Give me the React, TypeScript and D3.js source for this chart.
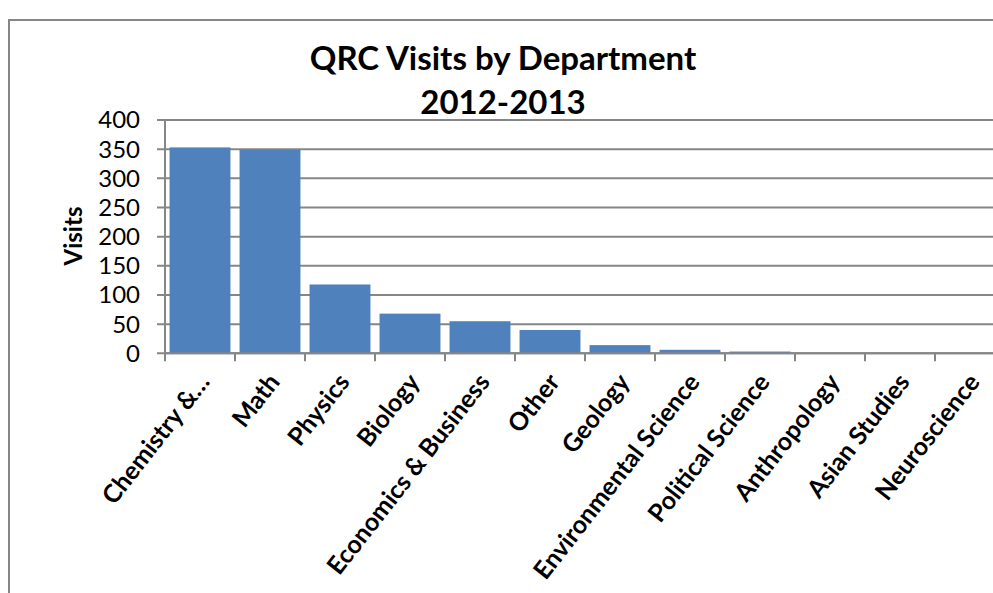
import * as d3 from "d3";

const departments = [
  "Chemistry &…",
  "Math",
  "Physics",
  "Biology",
  "Economics & Business",
  "Other",
  "Geology",
  "Environmental Science",
  "Political Science",
  "Anthropology",
  "Asian Studies",
  "Neuroscience",
];
const visits = [353, 349, 118, 68, 55, 40, 14, 6, 3, 0, 0, 0];
const yTicks = [0, 50, 100, 150, 200, 250, 300, 350, 400];

const W = 993;
const H = 593;
const grey = "#868686";
const barColor = "#4F81BD";
const font = "Lato, 'Open Sans', sans-serif";

const App = () => {
  // plot area (right edge runs past the picture, as in the original)
  const left = 165;
  const right = 1005;
  const top = 120;
  const bottom = 353.3;

  const x = d3
    .scaleBand<string>()
    .domain(departments)
    .range([left, right])
    .paddingInner(0.13)
    .paddingOuter(0.065);

  const y = d3.scaleLinear().domain([0, 400]).range([bottom, top]);

  const step = x.step();
  const boundaries = d3.range(departments.length + 1).map((i) => left + i * step);

  return (
    <svg
      width={W}
      height={H}
      style={{ position: "absolute", left: 0, top: 0, background: "#fff" }}
      fontFamily={font}
    >
      {/* chart frame */}
      <rect x={9} y={20} width={1200} height={800} fill="none" stroke={grey} strokeWidth={2} />

      {/* title */}
      <text x={503} y={70} textAnchor="middle" fontSize={33} fontWeight="bold" fill="#000">
        QRC Visits by Department
      </text>
      <text x={503} y={114} textAnchor="middle" fontSize={33} fontWeight="bold" fill="#000">
        2012-2013
      </text>

      {/* gridlines + y ticks */}
      {yTicks.map((t) => (
        <g key={t}>
          <line x1={157} x2={right} y1={y(t)} y2={y(t)} stroke={grey} strokeWidth={2} />
          <text x={140} y={y(t)} dy="0.35em" textAnchor="end" fontSize={24} fill="#000">
            {t}
          </text>
        </g>
      ))}

      {/* bars */}
      {departments.map((d, i) => (
        <rect
          key={d}
          x={x(d)}
          y={y(visits[i])}
          width={x.bandwidth()}
          height={bottom - y(visits[i])}
          fill={barColor}
        />
      ))}

      {/* axes */}
      <line x1={left} x2={left} y1={top} y2={bottom + 1} stroke={grey} strokeWidth={2} />
      <line x1={left} x2={right} y1={bottom} y2={bottom} stroke={grey} strokeWidth={2} />
      {boundaries.map((bx, i) => (
        <line key={i} x1={bx} x2={bx} y1={bottom} y2={bottom + 8} stroke={grey} strokeWidth={2} />
      ))}

      {/* category labels */}
      {departments.map((d) => {
        const cx = (x(d) ?? 0) + x.bandwidth() / 2;
        return (
          <text
            key={d}
            transform={`translate(${cx + 4},${377}) rotate(-52)`}
            textAnchor="end"
            dy="0.35em"
            fontSize={25}
            fontWeight="bold"
            fill="#000"
          >
            {d}
          </text>
        );
      })}

      {/* y axis title */}
      <text
        transform={`translate(${82},${236}) rotate(-90)`}
        textAnchor="middle"
        fontSize={24}
        fontWeight="bold"
        fill="#000"
      >
        Visits
      </text>
    </svg>
  );
};

export default App;
